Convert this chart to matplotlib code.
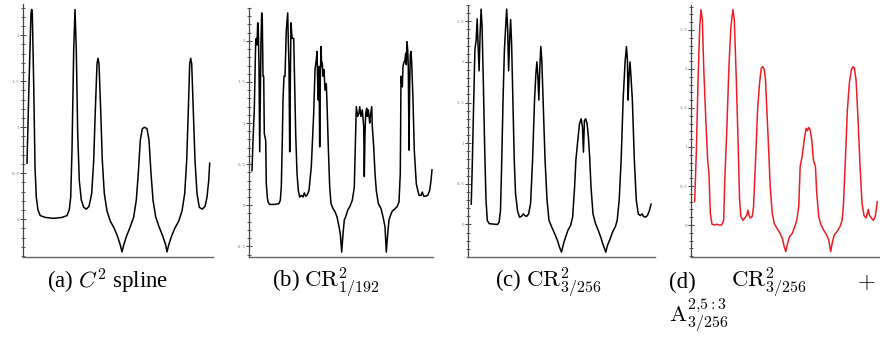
import matplotlib
matplotlib.use("Agg")
import matplotlib.pyplot as plt
from matplotlib.ticker import MultipleLocator, FixedLocator

plt.rcParams['font.family'] = ['Liberation Serif', 'DejaVu Serif']
plt.rcParams['mathtext.fontset'] = 'cm'

# ---------------- data ----------------
a_x = [0, 2, 4, 4.7, 5.3, 6.7, 8, 9.3, 11, 13.3, 18.3, 26.7, 35, 40, 42.3, 43.7, 45, 46.7, 48, 49.3,
       50.7, 52.3, 54.3, 56.7, 59.3, 62, 64.7, 66.7, 68.3, 70, 71, 72, 73.7, 75.3, 77.3, 80, 83.3, 87.3,
       90.7, 93.3, 95, 96.7, 99.3, 103.3, 106.7, 109.3, 111.3, 113.3, 115.3, 117.7, 120, 122, 124, 126,
       128.7, 132, 136, 138.7, 140, 141.7, 144.3, 147.7, 151.7, 155, 157.7, 159.7, 161.3, 162.7, 163.7,
       164.7, 166.3, 168, 170, 172.3, 175.3, 178, 180, 181.7, 182.7]
a_y = [0.61, 1.47, 2.24, 2.28, 2.24, 1.47, 0.57, 0.24, 0.10, 0.04, 0.02, 0.01, 0.02, 0.04, 0.105, 0.24,
       0.75, 1.84, 2.28, 1.84, 0.93, 0.42, 0.21, 0.13, 0.11, 0.14, 0.28, 0.64, 1.18, 1.69, 1.75, 1.69,
       1.18, 0.64, 0.28, 0.09, -0.02, -0.10, -0.19, -0.28, -0.355, -0.28, -0.19, -0.08, 0.025, 0.21,
       0.50, 0.86, 0.985, 1.0, 0.985, 0.86, 0.50, 0.21, 0.025, -0.08, -0.19, -0.28, -0.355, -0.28,
       -0.19, -0.10, -0.02, 0.09, 0.28, 0.64, 1.18, 1.69, 1.75, 1.69, 1.18, 0.64, 0.28, 0.13, 0.11,
       0.14, 0.24, 0.42, 0.61]

b_x = [0, 1, 2.3, 3.7, 4.3, 5, 5.7, 6.3, 7, 7.7, 8.3, 9, 9.7, 10.3, 11, 11.7, 12.3, 13.7, 14.3, 15.3,
       16, 17.7, 22.7, 27, 28.3, 29.3, 30.3, 31, 32, 33, 33.7, 34.3, 35.7, 36.3, 37, 37.7, 38.3, 39,
       39.7, 40.3, 41.7, 42.3, 43.7, 45, 46.3, 47.7, 49.3, 51, 52.3, 53.7, 55, 57, 59.3, 61.7, 63,
       64.3, 65, 65.7, 66.3, 67, 67.7, 68.3, 69, 69.7, 70.3, 71, 72, 73, 74.3, 75, 76.3, 77.7, 79,
       81, 83, 85, 87, 88.3, 89.7, 91, 92.3, 93.7, 95.7, 97.7, 100.3, 102.3, 103.7, 104.3, 105.7,
       107, 107.7, 109, 110.3, 111.7, 112.3, 113, 113.7, 114.7, 115.3, 116.3, 117.7, 118.3, 119.7,
       120.3, 121.7, 123, 124.3, 126.3, 129, 131, 133, 134.3, 135.7, 137, 138.3, 140.3, 142.3, 145,
       147, 148.3, 149, 149.7, 150.3, 151, 151.7, 153, 153.7, 154.3, 155, 155.7, 156.3, 157, 157.7,
       158.3, 159, 159.7, 161, 162.3, 164.3, 167, 169, 170.3, 171.7, 173.7, 175.7, 177.7, 179, 180]
b_y = [0.42, 0.79, 1.16, 2.01, 2.03, 1.95, 2.22, 2.13, 1.69, 0.65, 1.28, 2.01, 2.34, 2.26, 1.57, 1.57,
       0.87, 0.79, 0.26, 0.10, 0.04, 0.01, 0.01, 0.02, 0.06, 0.22, 0.79, 1.28, 1.57, 1.57, 1.89, 2.13,
       2.34, 2.01, 1.69, 0.65, 1.48, 2.22, 2.09, 2.03, 2.03, 1.69, 0.87, 0.39, 0.18, 0.10, 0.12, 0.10,
       0.15, 0.11, 0.12, 0.18, 0.47, 1.12, 1.65, 1.77, 1.87, 1.48, 1.28, 1.69, 0.71, 1.52, 1.93, 1.69,
       1.73, 1.57, 1.65, 1.40, 1.48, 1.24, 0.71, 0.22, 0.02, -0.04, -0.08, -0.14, -0.26, -0.35, -0.57,
       -0.35, -0.18, -0.14, -0.06, -0.02, 0.06, 0.22, 0.87, 1.20, 1.08, 1.12, 1.20, 1.08, 1.16, 0.96,
       0.35, 0.87, 1.12, 1.18, 1.08, 1.16, 1.00, 1.08, 1.20, 0.96, 0.71, 0.39, 0.18, 0.02, -0.04,
       -0.14, -0.26, -0.57, -0.35, -0.18, -0.13, -0.07, -0.05, -0.02, 0.04, 0.39, 1.57, 1.48, 1.44,
       1.69, 1.73, 1.77, 1.85, 1.71, 1.99, 1.89, 1.69, 0.67, 1.48, 1.83, 1.87, 1.73, 1.28, 0.67, 0.26,
       0.12, 0.12, 0.16, 0.11, 0.11, 0.12, 0.18, 0.30, 0.43]

c_x = [0, 1, 2.3, 3.7, 5, 6, 7, 8, 9, 10, 11, 12.3, 13.7, 15, 16.3, 18.3, 26.7, 28.3, 29.7, 31, 32.3,
       33.7, 35, 36, 37, 38, 39, 40, 41, 42.3, 43.7, 45, 47, 49, 51, 53, 54.3, 56.3, 58.3, 60.3, 62.3,
       64.3, 65.7, 66.7, 67.7, 68.7, 69.7, 70.7, 71.7, 73, 75, 77, 79, 81.7, 85, 87.7, 89.7, 91.7,
       93.7, 95.7, 98.3, 101, 103, 105, 106.3, 108.3, 110, 111.7, 113, 114, 115, 116.3, 117.7, 119,
       120.3, 121.7, 123.7, 126.3, 129, 131.7, 133.7, 136.7, 138.3, 141, 143.7, 146.3, 148.3, 150.3,
       152.3, 154.3, 156.3, 157.7, 158.7, 159.3, 160.3, 161.3, 162.3, 163.7, 165.7, 167.7, 169.7,
       171.7, 173.7, 175, 177, 179, 181, 182.7]
c_y = [0.25, 0.71, 1.41, 2.15, 2.27, 2.53, 2.19, 1.89, 2.35, 2.65, 2.44, 1.74, 0.91, 0.30, 0.05, 0.01,
       0.0, 0.03, 0.17, 0.79, 1.53, 2.15, 2.44, 2.65, 2.40, 1.89, 2.27, 2.52, 2.23, 1.53, 0.79, 0.38,
       0.17, 0.09, 0.10, 0.13, 0.11, 0.10, 0.13, 0.26, 0.79, 1.53, 1.86, 2.00, 1.82, 1.53, 1.94, 2.19,
       2.02, 1.53, 0.79, 0.30, 0.05, -0.03, -0.12, -0.20, -0.28, -0.34, -0.24, -0.16, -0.07, -0.01,
       0.09, 0.46, 0.79, 1.04, 1.24, 1.30, 1.20, 0.89, 1.28, 1.30, 1.24, 1.08, 0.83, 0.46, 0.13, 0.01,
       -0.07, -0.16, -0.24, -0.34, -0.26, -0.18, -0.09, -0.03, 0.05, 0.30, 0.79, 1.53, 2.00, 2.19,
       2.02, 1.53, 1.82, 2.00, 1.82, 1.53, 0.79, 0.30, 0.13, 0.11, 0.13, 0.10, 0.09, 0.11, 0.17, 0.25]

d_x = [0, 1.7, 3.3, 5, 6.3, 7.7, 9, 11, 13, 14.3, 15.7, 17.3, 19.7, 22.3, 24.3, 27, 29, 30.3, 32.3,
       34.3, 36.3, 38.3, 39.7, 41.7, 43.7, 45, 46.3, 48.3, 50.3, 52.3, 53.3, 54.3, 55.7, 57.7, 59, 61,
       63, 65, 66.7, 68.3, 69.7, 71, 72.3, 73.7, 75.7, 77.7, 79.7, 82.3, 85.7, 88.3, 89.7, 91.3, 93,
       95, 97.7, 100.3, 102.3, 104.3, 105.7, 107.7, 109.7, 111.7, 113, 114.3, 115.7, 117.3, 119, 121,
       122.3, 124.3, 126.3, 129, 132.3, 134.3, 136.3, 137.7, 139.7, 142.3, 145.7, 147.7, 149, 151,
       153, 155, 157, 158.7, 160, 161.7, 163.7, 165.7, 167.7, 169.7, 171.7, 173, 174, 175, 177, 179,
       181, 183]
d_y = [0.30, 0.96, 1.82, 2.54, 2.76, 2.63, 2.03, 1.39, 0.83, 0.66, 0.15, 0.01, 0.0, 0.01, 0.0, 0.0,
       0.06, 0.62, 1.26, 2.03, 2.54, 2.76, 2.63, 1.86, 0.96, 0.32, 0.11, 0.06, 0.09, 0.13, 0.19, 0.13,
       0.09, 0.11, 0.24, 0.83, 1.47, 1.82, 2.01, 2.03, 1.99, 1.86, 1.47, 1.09, 0.49, 0.15, 0.02, -0.04,
       -0.11, -0.19, -0.28, -0.34, -0.24, -0.15, -0.11, -0.02, 0.06, 0.24, 0.75, 0.88, 1.09, 1.24,
       1.21, 1.25, 1.22, 1.09, 0.83, 0.75, 0.41, 0.11, 0.01, -0.06, -0.13, -0.19, -0.34, -0.24, -0.13,
       -0.09, -0.02, 0.06, 0.24, 0.83, 1.47, 1.82, 1.99, 2.03, 2.01, 1.86, 1.35, 0.75, 0.28, 0.12,
       0.09, 0.15, 0.20, 0.13, 0.09, 0.06, 0.11, 0.30]

a_ticks = [0, 0.5, 1, 1.5, 2]
b_ticks = [-0.5, 0, 0.5, 1, 1.5, 2]
c_ticks = [0, 0.5, 1, 1.5, 2, 2.5]
d_ticks = [0, 0.5, 1, 1.5, 2, 2.5]

# ---------------- figure ----------------
W, H = 880, 337
fig = plt.figure(figsize=(W / 100, H / 100), dpi=100)

def px_axes(l, t, r, b):
    return fig.add_axes([l / W, 1 - b / H, (r - l) / W, (b - t) / H])

panels = [
    (a_x, a_y, a_ticks, (23, 4, 213, 257), (-4, 186), (-0.41, 2.34), 'black'),
    (b_x, b_y, b_ticks, (249, 8, 433, 257), (-3, 181), (-0.63, 2.40), 'black'),
    (c_x, c_y, c_ticks, (468, 5, 655, 257), (-3.3, 186.7), (-0.40, 2.70), 'black'),
    (d_x, d_y, d_ticks, (691, 5, 880, 257), (-3.7, 185.7), (-0.41, 2.82), '#ee1d25'),
]

for xs, ys, ticks, box, xl, yl, col in panels:
    ax = px_axes(*box)
    ax.plot(xs, ys, color=col, lw=1.1, solid_joinstyle='round')
    ax.set_xlim(*xl)
    ax.set_ylim(*yl)
    for s in ('top', 'right'):
        ax.spines[s].set_visible(False)
    ax.spines['left'].set_color('#444444')
    ax.spines['left'].set_linewidth(0.9)
    ax.spines['bottom'].set_color('#666666')
    ax.spines['bottom'].set_linewidth(1.0)
    ax.set_xticks([])
    ax.yaxis.set_major_locator(FixedLocator(ticks))
    ax.yaxis.set_minor_locator(MultipleLocator(0.1))
    ax.set_yticklabels([('%g' % t) for t in ticks])
    ax.tick_params(axis='y', which='major', direction='inout', length=4, width=0.7,
                   colors='#444444', labelsize=3.2, labelcolor='#888888', pad=0.5)
    ax.tick_params(axis='y', which='minor', direction='inout', length=2.5, width=0.6,
                   colors='#444444')
    for lab in ax.get_yticklabels():
        lab.set_family('DejaVu Sans Mono')
    ax.patch.set_alpha(0)

fs = 16.5
ybase = 1 - 288 / H
fig.text(47 / W, ybase, r'(a) $C^2$ spline', fontsize=fs, va='baseline', ha='left')
fig.text(272 / W, ybase, r'(b) $\mathrm{CR}^2_{1/192}$', fontsize=fs, va='baseline', ha='left')
fig.text(495 / W, ybase, r'(c) $\mathrm{CR}^2_{3/256}$', fontsize=fs, va='baseline', ha='left')
fig.text(669 / W, ybase, r'(d)', fontsize=fs, va='baseline', ha='left')
fig.text(731 / W, ybase, r'$\mathrm{CR}^2_{3/256}$', fontsize=fs, va='baseline', ha='left')
fig.text(866 / W, ybase, r'$+$', fontsize=fs, va='baseline', ha='center')
fig.text(669 / W, 1 - 322 / H, r'$\mathrm{A}^{2{,}5{:}3}_{3/256}$', fontsize=fs, va='baseline', ha='left')

fig.savefig('out.png', dpi=100)
